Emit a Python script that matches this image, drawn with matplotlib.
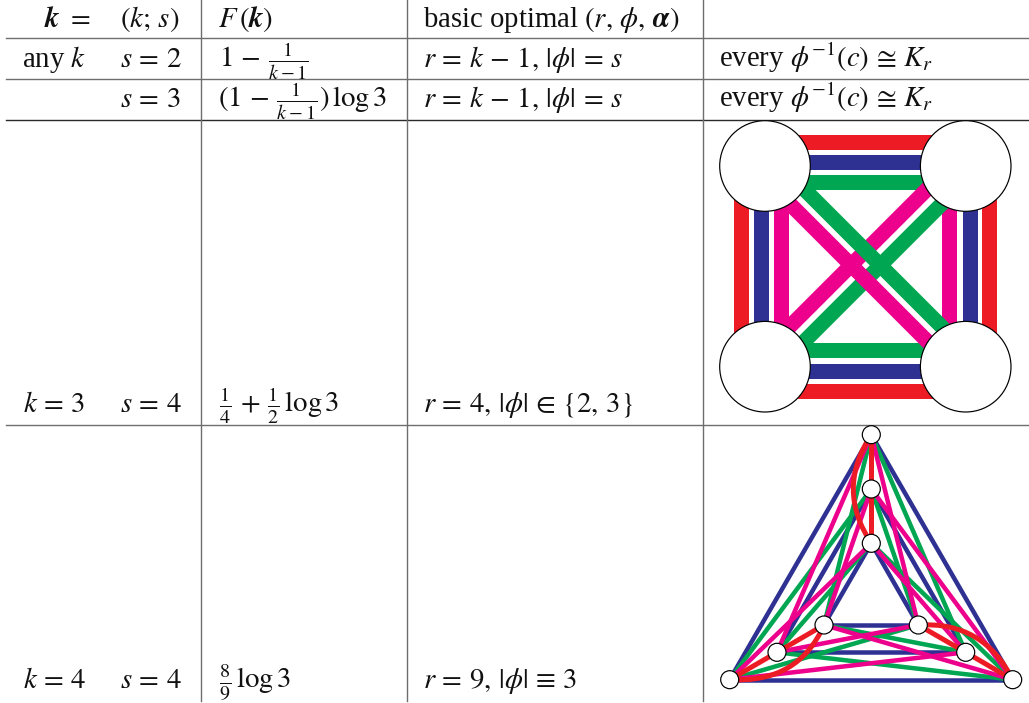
import matplotlib
matplotlib.use("Agg")
import matplotlib.pyplot as plt
from matplotlib.patches import Circle, PathPatch
from matplotlib.path import Path

plt.rcParams["mathtext.fontset"] = "stix"
plt.rcParams["font.family"] = ["Liberation Serif", "DejaVu Serif"]

RED = "#ED1C24"
BLUE = "#2E3192"
GREEN = "#00A651"
PINK = "#EC008C"
GRID = "#6e6e6e"
DARK = "#2a2a2a"

# table text: (x, baseline y, string)
header = [
    (44, 27, r"$\mathbfit{k}\ =$"),
    (120, 27, r"$(k;\,s)$"),
    (218, 27, r"$F\,(\mathbfit{k})$"),
    (423, 27, r"basic optimal $(r,\,\phi,\,\mathbfit{\alpha})$"),
]
rows = [
    (22, 67, r"any $k$"),
    (120, 67, r"$s\,=\,2$"),
    (219, 67, r"$1\,-\,\frac{1}{k-1}$"),
    (423, 67, r"$r\,=\,k\,-\,1,\,|\phi|\,=\,s$"),
    (719, 67, r"every $\phi^{-1}(c)\,\cong\,K_r$"),
    (120, 107, r"$s\,=\,3$"),
    (218, 107, r"$(1\,-\,\frac{1}{k-1})\,\log 3$"),
    (423, 107, r"$r\,=\,k\,-\,1,\,|\phi|\,=\,s$"),
    (719, 107, r"every $\phi^{-1}(c)\,\cong\,K_r$"),
    (23, 412, r"$k\,=\,3$"),
    (120, 412, r"$s\,=\,4$"),
    (219, 412, r"$\frac{1}{4}\,+\,\frac{1}{2}\,\log 3$"),
    (423, 412, r"$r\,=\,4,\,|\phi|\,\in\,\{2,\,3\}$"),
    (23, 688, r"$k\,=\,4$"),
    (120, 688, r"$s\,=\,4$"),
    (219, 688, r"$\frac{8}{9}\,\log 3$"),
    (423, 688, r"$r\,=\,9,\,|\phi|\,\equiv\,3$"),
]
hlines = [(38, GRID), (79, GRID), (119.5, DARK), (424.5, GRID)]
vlines = [200.5, 407, 703]

# K4 blow-up picture
sq_nodes = [(765, 166), (965.7, 166), (765, 366.7), (965.7, 366.7)]
sq_bands = [
    (RED, (765, 141.7), (965.7, 141.7)),
    (BLUE, (765, 161.7), (965.7, 161.7)),
    (GREEN, (765, 182.3), (965.7, 182.3)),
    (GREEN, (765, 350.3), (965.7, 350.3)),
    (BLUE, (765, 370.5), (965.7, 370.5)),
    (RED, (765, 390.5), (965.7, 390.5)),
    (RED, (740.8, 166), (740.8, 366.7)),
    (BLUE, (760.8, 166), (760.8, 366.7)),
    (PINK, (780.8, 166), (780.8, 366.7)),
    (PINK, (949.4, 166), (949.4, 366.7)),
    (BLUE, (969.5, 166), (969.5, 366.7)),
    (RED, (989.2, 166), (989.2, 366.7)),
    (PINK, (945, 171.3), (780, 336.3)),
    (GREEN, (950, 195.7), (790, 355.7)),
    (PINK, (775, 189), (945, 359)),
    (GREEN, (790, 175), (950, 335)),
]

# triangle picture
tri_nodes = {
    "A1": (871.3, 434.7), "A2": (871.3, 489), "A3": (871.3, 543.3),
    "B1": (729.7, 679.7), "B2": (777, 652.3), "B3": (824, 625),
    "C1": (1012.7, 679.7), "C2": (965.7, 652.3), "C3": (918.3, 625),
}
blue_edges = ["A1 B1", "A1 C1", "B1 C1", "A2 B2", "A2 C2", "B2 C2",
              "A3 B3", "A3 C3", "B3 C3"]
green_edges = ["A1 C2", "A1 B3", "A2 B1", "A2 C3", "A3 B2", "A3 C1",
               "B1 C3", "B2 C1", "B3 C2"]
pink_edges = ["A1 B2", "A1 C3", "A2 B3", "A2 C1", "A3 B1", "A3 C2",
              "B1 C2", "B2 C3", "B3 C1"]
red_edges = ["A1 A2", "A2 A3", "B1 B2", "B2 B3", "C1 C2", "C2 C3"]
# curved red edges, with the control point of each bend
red_curves = [("A1", (835.3, 489), "A3"),
              ("B1", (798.5, 683.5), "B3"),
              ("C1", (983.5, 621), "C3")]

PX = 0.72  # one pixel in points at dpi=100

fig = plt.figure(figsize=(10.29, 7.03), dpi=100)
ax = fig.add_axes([0, 0, 1, 1])
ax.set_xlim(0, 1029)
ax.set_ylim(703, 0)
ax.axis("off")

for y, col in hlines:
    ax.plot([6, 1029], [y, y], color=col, lw=1.4 * PX, zorder=1)
for x in vlines:
    ax.plot([x, x], [0, 700.5], color=GRID, lw=1.4 * PX, zorder=1)

for x, y, s in header + rows:
    ax.text(x, y, s, fontsize=20.7, va="baseline", ha="left", color="#111111")

for col, p, q in sq_bands:
    ax.plot([p[0], q[0]], [p[1], q[1]], color=col, lw=15 * PX,
            solid_capstyle="butt", zorder=2)
for c in sq_nodes:
    ax.add_patch(Circle(c, 45.3, fc="white", ec="black", lw=1.2 * PX, zorder=5))

for edges, col, w in [(blue_edges, BLUE, 4.5), (green_edges, GREEN, 4.5),
                      (pink_edges, PINK, 4.5), (red_edges, RED, 5)]:
    for e in edges:
        a, b = e.split()
        p, q = tri_nodes[a], tri_nodes[b]
        ax.plot([p[0], q[0]], [p[1], q[1]], color=col, lw=w * PX,
                solid_capstyle="butt", zorder=3)
for a, ctrl, b in red_curves:
    path = Path([tri_nodes[a], ctrl, tri_nodes[b]],
                [Path.MOVETO, Path.CURVE3, Path.CURVE3])
    ax.add_patch(PathPatch(path, fc="none", ec=RED, lw=5 * PX, zorder=3))
for c in tri_nodes.values():
    ax.add_patch(Circle(c, 9, fc="white", ec="black", lw=1.2 * PX, zorder=5))

fig.savefig("out.png", dpi=100, facecolor="white")
